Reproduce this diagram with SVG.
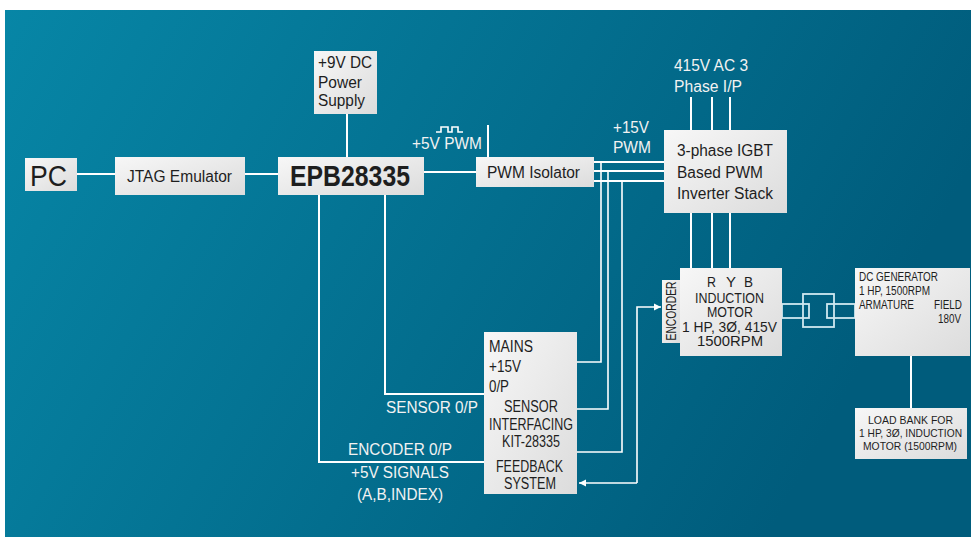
<svg xmlns="http://www.w3.org/2000/svg" width="971" height="537" viewBox="0 0 971 537">
<defs>
<linearGradient id="bg" x1="0" y1="0" x2="1" y2="0.3">
<stop offset="0" stop-color="#0786a6"/>
<stop offset="1" stop-color="#005c7c"/>
</linearGradient>
<linearGradient id="boxg" x1="0" y1="0" x2="1" y2="1">
<stop offset="0" stop-color="#f7f7f7"/>
<stop offset="1" stop-color="#dcdcdc"/>
</linearGradient>
<marker id="arr" markerWidth="8" markerHeight="8" refX="7" refY="4" orient="auto" markerUnits="userSpaceOnUse">
<path d="M0,0.5 L7,4 L0,7.5 Z" fill="#ffffff"/>
</marker>
<style>
.box{fill:url(#boxg);}
.t{font-family:"Liberation Sans",Arial,sans-serif;fill:#1e1e1e;font-size:16px;}
.w{font-family:"Liberation Sans",Arial,sans-serif;fill:#f2f2f2;font-size:16px;}
.s{font-size:12px;}
.lb{font-size:11px;}
.m{font-size:14px;}
.ln{stroke:#ffffff;stroke-width:2;fill:none;}
.thin{stroke:#ffffff;stroke-width:1.6;fill:none;}
.cp{stroke:#cfe8f0;stroke-width:1.8;fill:none;}
</style>
</defs>
<rect x="0" y="0" width="971" height="537" fill="#ffffff"/>
<rect x="5" y="10" width="966" height="527" fill="url(#bg)"/>

<g id="connectors">
<line class="ln" x1="77" y1="174" x2="115" y2="174"/>
<line class="ln" x1="245" y1="174" x2="278" y2="174"/>
<line class="ln" x1="424" y1="172" x2="476" y2="172"/>
<line class="ln" x1="347" y1="114" x2="347" y2="157"/>
<line class="ln" x1="488" y1="125" x2="488" y2="157"/>
<polyline class="thin" points="436,132 441,132 441,127 448,127 448,132 452,132 452,127 458,127 458,132 463,132"/>
<line class="ln" x1="594" y1="162" x2="664" y2="162"/>
<line class="ln" x1="594" y1="171" x2="664" y2="171"/>
<line class="ln" x1="594" y1="181" x2="664" y2="181"/>
<polyline class="thin" points="601,162 601,362 577,362"/>
<polyline class="thin" points="608,171 608,409 577,409"/>
<polyline class="thin" points="622,181 622,452 577,452"/>
<polyline class="thin" points="637,483 637,307 661,307" marker-end="url(#arr)"/>
<polyline class="thin" points="637,483 579,483" marker-end="url(#arr)"/>
<line class="ln" x1="691" y1="97" x2="691" y2="130"/>
<line class="ln" x1="712" y1="97" x2="712" y2="130"/>
<line class="ln" x1="730" y1="97" x2="730" y2="130"/>
<line class="ln" x1="691" y1="213" x2="691" y2="268"/>
<line class="ln" x1="712" y1="213" x2="712" y2="268"/>
<line class="ln" x1="730" y1="213" x2="730" y2="268"/>
<polyline class="ln" points="385,195 385,394 484,394"/>
<polyline class="ln" points="319,195 319,462 484,462"/>
<line class="ln" x1="911" y1="356" x2="911" y2="408"/>
<rect class="cp" x="803" y="294" width="31" height="33"/>
<rect class="cp" x="782" y="304" width="27" height="14"/>
<rect class="cp" x="827" y="304" width="28" height="14"/>
</g>

<g id="pc">
<rect class="box" x="25" y="158" width="52" height="33"/>
<text class="t" x="30" y="186" style="font-size:30px" textLength="37" lengthAdjust="spacingAndGlyphs">PC</text>
</g>
<g id="jtag">
<rect class="box" x="115" y="157" width="130" height="38"/>
<text class="t" x="127" y="182" textLength="105" lengthAdjust="spacingAndGlyphs">JTAG Emulator</text>
</g>
<g id="epb">
<rect class="box" x="278" y="157" width="146" height="38"/>
<text class="t" x="290" y="186" style="font-size:29px;font-weight:bold" textLength="120" lengthAdjust="spacingAndGlyphs">EPB28335</text>
</g>
<g id="power">
<rect class="box" x="314" y="51" width="63" height="63"/>
<text class="t" x="318" y="68" textLength="54" lengthAdjust="spacingAndGlyphs">+9V DC</text>
<text class="t" x="318" y="88" textLength="44" lengthAdjust="spacingAndGlyphs">Power</text>
<text class="t" x="318" y="106" textLength="47" lengthAdjust="spacingAndGlyphs">Supply</text>
</g>
<g id="pwmiso">
<rect class="box" x="476" y="157" width="118" height="30"/>
<text class="t" x="487" y="178" textLength="93" lengthAdjust="spacingAndGlyphs">PWM Isolator</text>
</g>
<g id="igbt">
<rect class="box" x="664" y="130" width="123" height="83"/>
<text class="t" x="677" y="156" textLength="96" lengthAdjust="spacingAndGlyphs">3-phase IGBT</text>
<text class="t" x="677" y="178" textLength="86" lengthAdjust="spacingAndGlyphs">Based PWM</text>
<text class="t" x="677" y="199" textLength="96" lengthAdjust="spacingAndGlyphs">Inverter Stack</text>
</g>
<g id="encoder">
<rect class="box" x="662" y="280" width="18" height="63"/>
<text class="t" transform="translate(676,311) rotate(-90)" x="0" y="0" style="font-size:15px" text-anchor="middle" textLength="59" lengthAdjust="spacingAndGlyphs">ENCORDER</text>
</g>
<g id="motor">
<rect class="box" x="680" y="268" width="102" height="88"/>
<text class="t m" x="707" y="287" textLength="9" lengthAdjust="spacingAndGlyphs">R</text>
<text class="t m" x="726" y="287" textLength="10" lengthAdjust="spacingAndGlyphs">Y</text>
<text class="t m" x="744" y="287" textLength="9" lengthAdjust="spacingAndGlyphs">B</text>
<text class="t m" x="695" y="303" textLength="69" lengthAdjust="spacingAndGlyphs">INDUCTION</text>
<text class="t m" x="707" y="317" textLength="46" lengthAdjust="spacingAndGlyphs">MOTOR</text>
<text class="t m" x="682" y="332" textLength="95" lengthAdjust="spacingAndGlyphs">1 HP, 3Ø, 415V</text>
<text class="t m" x="697" y="346" textLength="66" lengthAdjust="spacingAndGlyphs">1500RPM</text>
</g>
<g id="dcgen">
<rect class="box" x="855" y="268" width="115" height="88"/>
<text class="t s" x="859" y="281" textLength="79" lengthAdjust="spacingAndGlyphs">DC GENERATOR</text>
<text class="t s" x="859" y="295" textLength="71" lengthAdjust="spacingAndGlyphs">1 HP, 1500RPM</text>
<text class="t s" x="859" y="309" textLength="55" lengthAdjust="spacingAndGlyphs">ARMATURE</text>
<text class="t s" x="934" y="309" textLength="28" lengthAdjust="spacingAndGlyphs">FIELD</text>
<text class="t s" x="938" y="323" textLength="23" lengthAdjust="spacingAndGlyphs">180V</text>
</g>
<g id="loadbank">
<rect class="box" x="855" y="408" width="112" height="51"/>
<text class="t lb" x="868" y="424" textLength="85" lengthAdjust="spacingAndGlyphs">LOAD BANK FOR</text>
<text class="t lb" x="859" y="437" textLength="103" lengthAdjust="spacingAndGlyphs">1 HP, 3Ø, INDUCTION</text>
<text class="t lb" x="863" y="450" textLength="94" lengthAdjust="spacingAndGlyphs">MOTOR (1500RPM)</text>
</g>
<g id="sensorkit">
<rect class="box" x="484" y="332" width="93" height="162"/>
<text class="t" x="489" y="352" textLength="44" lengthAdjust="spacingAndGlyphs">MAINS</text>
<text class="t" x="489" y="372" textLength="32" lengthAdjust="spacingAndGlyphs">+15V</text>
<text class="t" x="489" y="392" textLength="20" lengthAdjust="spacingAndGlyphs">0/P</text>
<text class="t" x="504" y="412" textLength="54" lengthAdjust="spacingAndGlyphs">SENSOR</text>
<text class="t" x="489" y="430" textLength="84" lengthAdjust="spacingAndGlyphs">INTERFACING</text>
<text class="t" x="502" y="447" textLength="58" lengthAdjust="spacingAndGlyphs">KIT-28335</text>
<text class="t" x="496" y="472" textLength="67" lengthAdjust="spacingAndGlyphs">FEEDBACK</text>
<text class="t" x="504" y="489" textLength="52" lengthAdjust="spacingAndGlyphs">SYSTEM</text>
</g>

<g id="labels">
<text class="w" x="412" y="149" textLength="70" lengthAdjust="spacingAndGlyphs">+5V PWM</text>
<text class="w" x="613" y="133" textLength="36" lengthAdjust="spacingAndGlyphs">+15V</text>
<text class="w" x="613" y="153" textLength="38" lengthAdjust="spacingAndGlyphs">PWM</text>
<text class="w" x="674" y="71" textLength="74" lengthAdjust="spacingAndGlyphs">415V AC 3</text>
<text class="w" x="674" y="92" textLength="68" lengthAdjust="spacingAndGlyphs">Phase I/P</text>
<text class="w" x="386" y="413" textLength="92" lengthAdjust="spacingAndGlyphs">SENSOR 0/P</text>
<text class="w" x="348" y="455" textLength="104" lengthAdjust="spacingAndGlyphs">ENCODER 0/P</text>
<text class="w" x="351" y="478" textLength="98" lengthAdjust="spacingAndGlyphs">+5V SIGNALS</text>
<text class="w" x="357" y="500" textLength="86" lengthAdjust="spacingAndGlyphs">(A,B,INDEX)</text>
</g>
</svg>
